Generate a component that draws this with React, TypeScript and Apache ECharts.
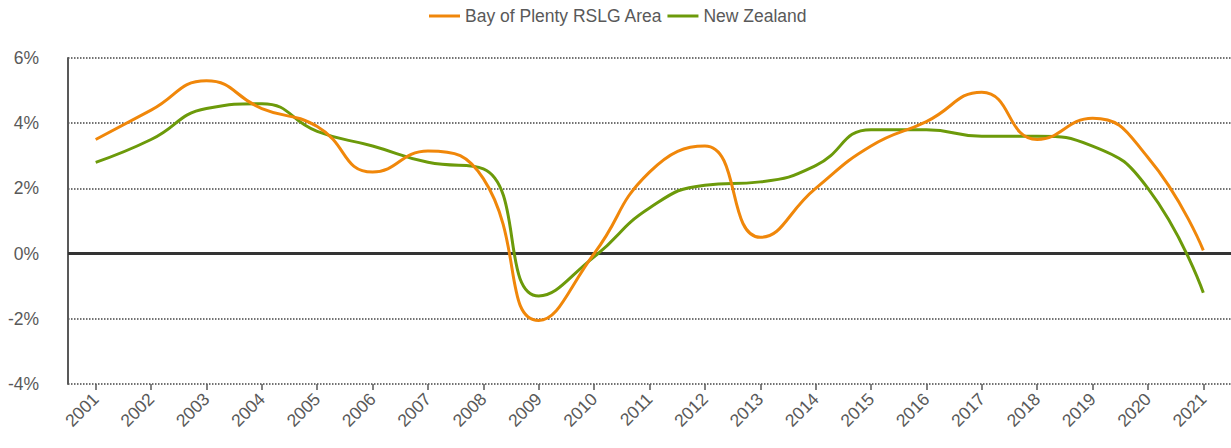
import React, { useEffect, useRef } from "react";
import * as echarts from "echarts";

const years = ["2001","2002","2003","2004","2005","2006","2007","2008","2009","2010","2011","2012","2013","2014","2015","2016","2017","2018","2019","2020","2021"];
const bayOfPlenty = [3.5, 4.4, 5.3, 4.45, 3.9, 2.5, 3.15, 2.3, -2.05, 0.0, 2.5, 3.3, 0.5, 2.0, 3.3, 4.05, 4.95, 3.5, 4.15, 2.95, 0.1];
const newZealand = [2.8, 3.5, 4.45, 4.6, 3.75, 3.3, 2.8, 2.6, -1.3, -0.1, 1.4, 2.1, 2.2, 2.7, 3.8, 3.8, 3.6, 3.6, 3.3, 2.0, -1.2];
const yTicks = { min: -4, max: 6, interval: 2 };

const FONT = "'Liberation Sans', Arial, sans-serif";
const TEXT = "#595959";
const FS = 17.5;

export default function App() {
  const ref = useRef<HTMLDivElement>(null);
  useEffect(() => {
    document.body.style.margin = "0";
    const chart = echarts.init(ref.current!, null, { renderer: "svg" });
    chart.setOption({
      animation: false,
      legend: {
        top: 2,
        left: 424,
        itemGap: 5,
        itemWidth: 31,
        itemHeight: 3,
        icon: "rect",
        textStyle: { color: TEXT, fontSize: FS, fontFamily: FONT },
        data: ["Bay of Plenty RSLG Area", "New Zealand"],
      },
      grid: { left: 68, right: 0, top: 58, bottom: 64, containLabel: false },
      xAxis: {
        type: "category",
        data: years,
        boundaryGap: true,
        axisLine: { show: false, onZero: false },
        axisTick: { show: true, alignWithLabel: true, length: 6, lineStyle: { color: TEXT, width: 1.5 } },
        axisLabel: { rotate: 45, color: TEXT, fontSize: FS, fontFamily: FONT, margin: 12 },
        splitLine: { show: false },
      },
      yAxis: {
        type: "value",
        min: yTicks.min,
        max: yTicks.max,
        interval: yTicks.interval,
        axisLine: { show: true, lineStyle: { color: TEXT, width: 2 } },
        axisTick: { show: false },
        axisLabel: {
          color: TEXT,
          fontSize: FS,
          fontFamily: FONT,
          margin: 29,
          padding: [5, 0, 0, 0],
          formatter: (v: number) => `${v}%`,
        },
        splitLine: { show: true, lineStyle: { type: "dotted", color: "#444", width: 1.5 } },
      },
      series: [
        {
          name: "Bay of Plenty RSLG Area",
          type: "line",
          data: bayOfPlenty,
          smooth: 0.5,
          showSymbol: false,
          symbol: "none",
          color: "#F0870A",
          lineStyle: { width: 3, color: "#F0870A" },
          z: 3,
          markLine: {
            silent: true,
            symbol: "none",
            label: { show: false },
            lineStyle: { color: "#333", width: 3, type: "solid" },
            data: [{ yAxis: 0 }],
            z: 1,
          },
        },
        {
          name: "New Zealand",
          type: "line",
          data: newZealand,
          smooth: 0.5,
          showSymbol: false,
          symbol: "none",
          color: "#6C9A0A",
          lineStyle: { width: 3, color: "#6C9A0A" },
          z: 2,
        },
      ],
    });
    return () => chart.dispose();
  }, []);
  return <div ref={ref} style={{ width: 1231, height: 448 }} />;
}
